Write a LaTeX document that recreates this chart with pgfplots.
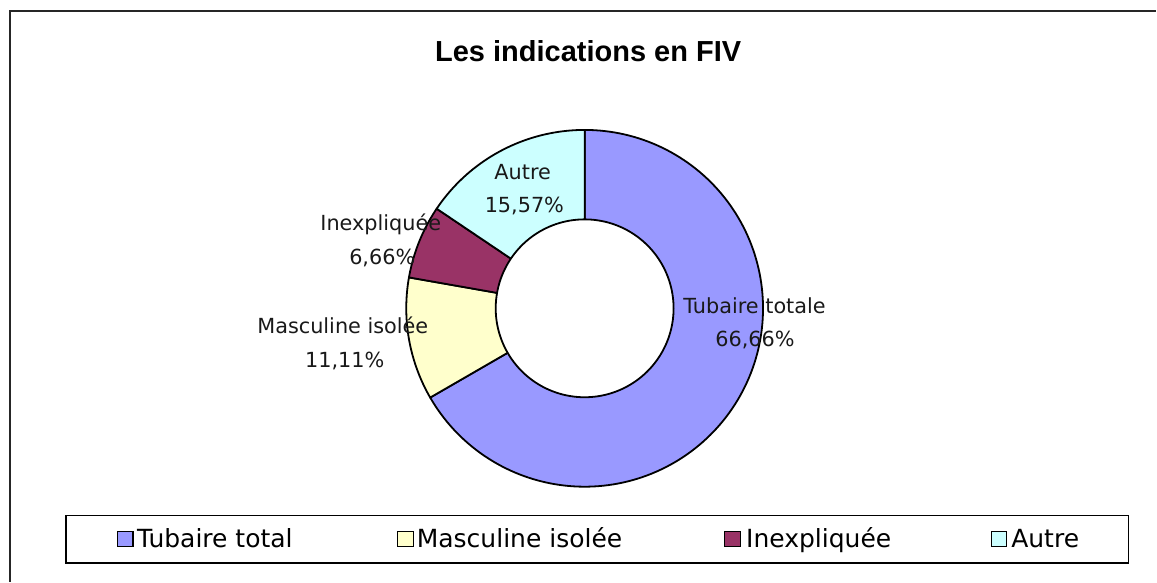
\documentclass[border=0pt]{standalone}
\usepackage{pgfplots}
\pgfplotsset{compat=1.18}
\usepackage{fontspec}
\setmainfont{DejaVu Sans}
\newfontfamily\titlefont{Liberation Sans}
\definecolor{cTub}{HTML}{9999FF}
\definecolor{cMas}{HTML}{FFFFCC}
\definecolor{cInx}{HTML}{993366}
\definecolor{cAut}{HTML}{CCFFFF}
% data (percent)
\def\vTub{66.66}
\def\vMas{11.11}
\def\vInx{6.66}
\def\vAut{15.57}
\begin{document}
\begin{tikzpicture}
\def\cx{585}\def\cy{308.5}\def\Rout{178.5}\def\Rin{89}
\pgfmathsetmacro\aA{-90}
\pgfmathsetmacro\aB{\aA+3.6*\vTub}
\pgfmathsetmacro\aC{\aB+3.6*\vMas}
\pgfmathsetmacro\aD{\aC+3.6*\vInx}
\pgfmathsetmacro\aE{\aD+3.6*\vAut}
\begin{axis}[hide axis, scale only axis, width=578.5pt, height=291pt,
  xmin=0, xmax=1157, ymin=0, ymax=582, y dir=reverse, clip=false]
\path (0,0) rectangle (1157,582);
% frame
\draw[line width=0.7pt, black!85] (10,582) -- (10,11) -- (1157,11);
% slices
\addplot[fill=cTub, draw=black, line width=0.9pt, line join=round, domain=\aA:\aB, samples=150] ({\cx+\Rout*cos(x)},{\cy+\Rout*sin(x)}) -- (\cx,\cy) -- cycle;
\addplot[fill=cMas, draw=black, line width=0.9pt, line join=round, domain=\aB:\aC, samples=40] ({\cx+\Rout*cos(x)},{\cy+\Rout*sin(x)}) -- (\cx,\cy) -- cycle;
\addplot[fill=cInx, draw=black, line width=0.9pt, line join=round, domain=\aC:\aD, samples=30] ({\cx+\Rout*cos(x)},{\cy+\Rout*sin(x)}) -- (\cx,\cy) -- cycle;
\addplot[fill=cAut, draw=black, line width=0.9pt, line join=round, domain=\aD:\aE, samples=50] ({\cx+\Rout*cos(x)},{\cy+\Rout*sin(x)}) -- (\cx,\cy) -- cycle;
\addplot[fill=white, draw=black, line width=0.9pt, domain=0:360, samples=160] ({\cx+\Rin*cos(x)},{\cy+\Rin*sin(x)}) -- cycle;
% title
\node[anchor=base, inner sep=0pt, font=\titlefont\bfseries\fontsize{14.5}{17}\selectfont] at (588.5,61.7) {Les indications en FIV};
% data labels
\begin{scope}[every node/.style={anchor=base, inner sep=0pt, font=\fontsize{10.4}{12}\selectfont, text=black!90}]
\node at (755,314) {Tubaire totale};
\node at (755.5,346.7) {66,66\%};
\node at (343,334) {Masculine isolée};
\node at (345,367.3) {11,11\%};
\node at (381,231) {Inexpliquée};
\node at (382.5,265) {6,66\%};
\node at (523,179.3) {Autre};
\node at (524.7,212.7) {15,57\%};
\end{scope}
% legend
\draw[line width=0.6pt] (66,515.5) rectangle (1129,563.3);
\begin{scope}[every node/.style={anchor=base west, inner sep=0pt, font=\fontsize{12.5}{14}\selectfont}]
\draw[fill=cTub, line width=0.6pt] (117.5,531.5) rectangle (133,546.8);
\node at (136.7,548.3) {Tubaire total};
\draw[fill=cMas, line width=0.6pt] (398,531.5) rectangle (413.5,546.8);
\node at (416.7,548.3) {Masculine isolée};
\draw[fill=cInx, line width=0.6pt] (725.2,531.5) rectangle (740.7,546.8);
\node at (746.2,548.3) {Inexpliquée};
\draw[fill=cAut, line width=0.6pt] (992,531.5) rectangle (1007.5,546.8);
\node at (1011.5,548.3) {Autre};
\end{scope}
\end{axis}
\end{tikzpicture}
\end{document}
